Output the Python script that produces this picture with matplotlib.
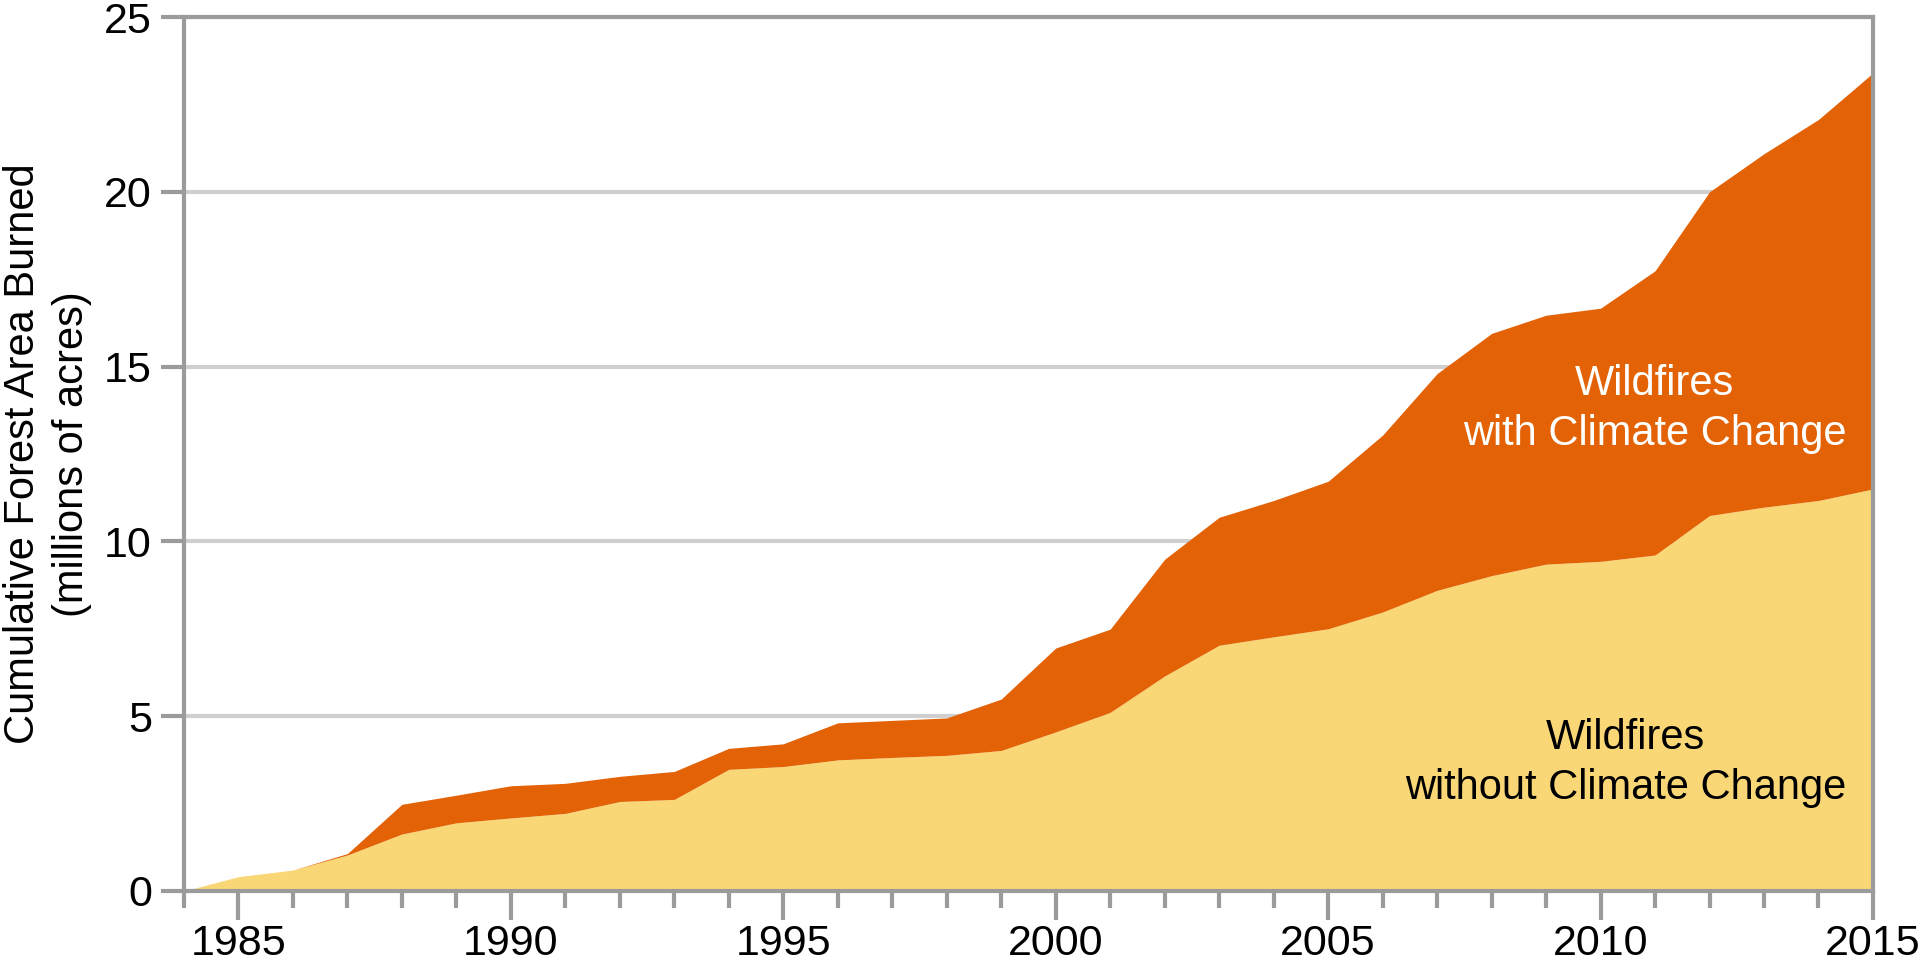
import matplotlib
matplotlib.use("Agg")
import matplotlib.pyplot as plt
from matplotlib.ticker import MultipleLocator

plt.rcParams['font.family'] = ['Liberation Sans', 'DejaVu Sans']

years = list(range(1984, 2016))
without_cc = [0.0, 0.41, 0.60, 1.03, 1.63, 1.95, 2.09, 2.22, 2.56, 2.62,
              3.48, 3.56, 3.75, 3.82, 3.88, 4.02, 4.55, 5.11, 6.15, 7.03,
              7.27, 7.50, 7.98, 8.60, 9.02, 9.35, 9.43, 9.61, 10.74, 10.98,
              11.17, 11.50]
with_cc = [0.0, 0.41, 0.60, 1.07, 2.48, 2.74, 3.01, 3.08, 3.28, 3.42,
           4.08, 4.21, 4.81, 4.88, 4.95, 5.49, 6.95, 7.49, 9.49, 10.69,
           11.17, 11.72, 13.04, 14.80, 15.95, 16.47, 16.67, 17.74, 20.0, 21.09,
           22.07, 23.40]
y_ticks = [0, 5, 10, 15, 20, 25]
x_ticks = [1985, 1990, 1995, 2000, 2005, 2010, 2015]
label_with = "Wildfires\nwith Climate Change"
label_without = "Wildfires\nwithout Climate Change"
ylabel = "Cumulative Forest Area Burned\n(millions of acres)"

YELLOW = "#FAD776"
ORANGE = "#E36205"
SPINE = "#9B9B9B"
GRID = "#CFCFCF"

fig = plt.figure(figsize=(19.2, 9.67), dpi=100)
ax = fig.add_axes([0.0958, 0.0786, 0.9755 - 0.0958, 0.9824 - 0.0786])

ax.fill_between(years, 0, without_cc, color=YELLOW, linewidth=0, zorder=2)
ax.fill_between(years, without_cc, with_cc, color=ORANGE, linewidth=0, zorder=2)

ax.set_xlim(1984, 2015)
ax.set_ylim(0, 25)
ax.set_yticks(y_ticks)
ax.set_xticks(x_ticks)
ax.xaxis.set_minor_locator(MultipleLocator(1))

ax.grid(axis='y', color=GRID, linewidth=3, zorder=1)
ax.set_axisbelow(True)

for s in ax.spines.values():
    s.set_color(SPINE)
    s.set_linewidth(3)
    s.set_zorder(3)

ax.tick_params(axis='x', which='major', length=21, width=3, color=SPINE,
               labelsize=31, pad=3)
ax.tick_params(axis='x', which='minor', length=12, width=3, color=SPINE)
ax.tick_params(axis='y', which='major', length=16.5, width=3, color=SPINE,
               labelsize=31, pad=6.5)

ax.set_ylabel(ylabel, fontsize=30, linespacing=1.3)
ax.yaxis.set_label_coords(-0.0545, 0.5)

ax.text(2010.99, 13.79, label_with, color='white', fontsize=30,
        ha='center', va='center', linespacing=1.32, zorder=4)
ax.text(2010.46, 3.65, label_without, color='black', fontsize=30,
        ha='center', va='center', linespacing=1.32, zorder=4)

fig.savefig("out.png", dpi=100, facecolor='white')
